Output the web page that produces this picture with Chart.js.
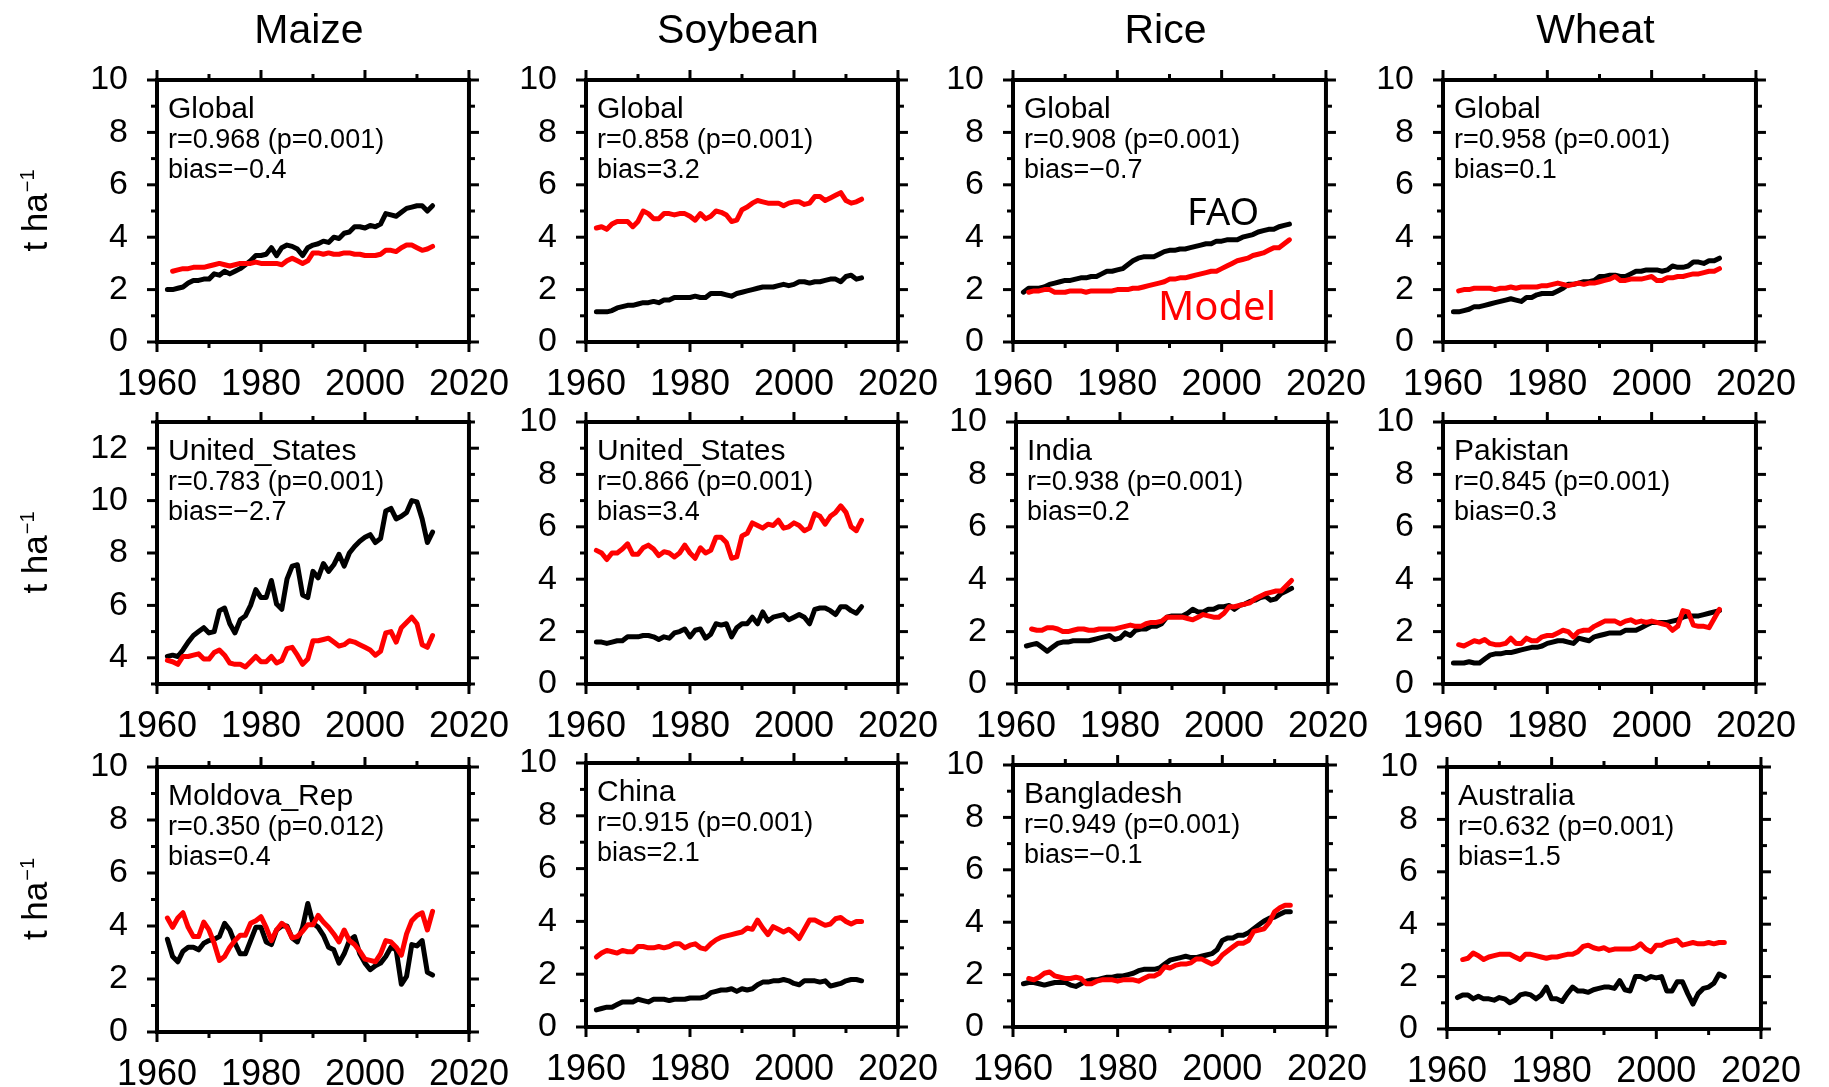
<!DOCTYPE html>
<html>
<head>
<meta charset="utf-8">
<title>Crop yield: FAO vs Model</title>
<script src="https://cdn.jsdelivr.net/npm/chart.js@4.4.1/dist/chart.umd.min.js"></script>
<style>
  html, body { margin: 0; padding: 0; background: #ffffff; }
  #fig { position: relative; width: 1829px; height: 1087px; overflow: hidden; background: #ffffff; }
  #fig canvas { position: absolute; }
</style>
</head>
<body>
<div id="fig"></div>
<script>
// ---------------------------------------------------------------------------
// Data (t ha-1), years 1962-2013. null = no value for that year.
// ---------------------------------------------------------------------------
const years = [1962,1963,1964,1965,1966,1967,1968,1969,1970,1971,
               1972,1973,1974,1975,1976,1977,1978,1979,1980,1981,
               1982,1983,1984,1985,1986,1987,1988,1989,1990,1991,
               1992,1993,1994,1995,1996,1997,1998,1999,2000,2001,
               2002,2003,2004,2005,2006,2007,2008,2009,2010,2011,
               2012,2013];

const cropNames = ['Maize', 'Soybean', 'Rice', 'Wheat'];

const regionNames = ['Global', 'Global', 'Global', 'Global',
                     'United_States', 'United_States', 'India', 'Pakistan',
                     'Moldova_Rep', 'China', 'Bangladesh', 'Australia'];

const corrTexts = ['r=0.968 (p=0.001)', 'r=0.858 (p=0.001)', 'r=0.908 (p=0.001)', 'r=0.958 (p=0.001)',
                   'r=0.783 (p=0.001)', 'r=0.866 (p=0.001)', 'r=0.938 (p=0.001)', 'r=0.845 (p=0.001)',
                   'r=0.350 (p=0.012)', 'r=0.915 (p=0.001)', 'r=0.949 (p=0.001)', 'r=0.632 (p=0.001)'];

const biasTexts = ['bias=\u22120.4', 'bias=3.2', 'bias=\u22120.7', 'bias=0.1',
                   'bias=\u22122.7', 'bias=3.4', 'bias=0.2', 'bias=0.3',
                   'bias=0.4', 'bias=2.1', 'bias=\u22120.1', 'bias=1.5'];

// Maize, global
const faoMaizeGlobal = [2.0,2.0,2.05,2.1,2.25,2.35,2.35,2.4,2.4,2.6,
  2.55,2.7,2.6,2.7,2.8,2.95,3.1,3.3,3.3,3.35,
  3.6,3.3,3.6,3.7,3.65,3.55,3.3,3.6,3.7,3.75,
  3.85,3.8,4.0,3.95,4.15,4.2,4.4,4.4,4.35,4.45,
  4.4,4.5,4.9,4.85,4.8,4.95,5.1,5.15,5.2,5.2,
  5.0,5.2];
const modelMaizeGlobal = [null,2.7,2.75,2.8,2.8,2.85,2.85,2.85,2.9,2.95,
  3.0,2.95,2.9,2.95,3.0,3.0,3.0,3.05,3.0,3.0,
  3.0,3.0,2.95,3.1,3.2,3.1,3.0,3.1,3.4,3.4,
  3.35,3.4,3.35,3.35,3.4,3.4,3.35,3.35,3.3,3.3,
  3.3,3.35,3.5,3.5,3.45,3.6,3.7,3.7,3.6,3.5,
  3.55,3.65];

// Soybean, global
const faoSoyGlobal = [1.15,1.15,1.15,1.2,1.3,1.35,1.4,1.4,1.45,1.5,
  1.5,1.55,1.5,1.6,1.6,1.7,1.7,1.7,1.7,1.75,
  1.7,1.7,1.85,1.85,1.85,1.8,1.75,1.85,1.9,1.95,
  2.0,2.05,2.1,2.1,2.1,2.15,2.2,2.15,2.2,2.3,
  2.3,2.25,2.3,2.3,2.35,2.4,2.4,2.3,2.5,2.55,
  2.4,2.45];
const modelSoyGlobal = [4.35,4.4,4.3,4.5,4.6,4.6,4.6,4.4,4.6,5.0,
  4.9,4.7,4.7,4.9,4.9,4.85,4.9,4.9,4.8,4.65,
  4.9,4.7,4.8,5.0,4.95,4.85,4.6,4.65,5.05,5.15,
  5.3,5.4,5.35,5.3,5.3,5.3,5.2,5.3,5.35,5.35,
  5.25,5.3,5.55,5.55,5.4,5.5,5.6,5.7,5.4,5.3,
  5.35,5.45];

// Rice, global
const faoRiceGlobal = [1.9,2.05,2.05,2.05,2.1,2.2,2.25,2.3,2.35,2.35,
  2.4,2.45,2.45,2.5,2.5,2.6,2.7,2.7,2.75,2.8,
  2.95,3.1,3.2,3.25,3.25,3.25,3.35,3.45,3.5,3.5,
  3.55,3.55,3.6,3.65,3.7,3.75,3.75,3.85,3.85,3.9,
  3.9,3.9,4.0,4.05,4.1,4.2,4.25,4.3,4.3,4.4,
  4.45,4.5];
const modelRiceGlobal = [null,1.9,1.95,1.95,2.0,2.0,1.9,1.9,1.9,1.95,
  1.95,1.95,1.9,1.95,1.95,1.95,1.95,1.95,2.0,2.0,
  2.0,2.05,2.05,2.1,2.15,2.2,2.25,2.3,2.4,2.4,
  2.45,2.45,2.5,2.55,2.6,2.65,2.7,2.7,2.8,2.9,
  3.0,3.1,3.15,3.2,3.3,3.35,3.4,3.5,3.6,3.6,
  3.75,3.9];

// Wheat, global
const faoWheatGlobal = [1.15,1.15,1.2,1.25,1.35,1.35,1.4,1.45,1.5,1.55,
  1.6,1.65,1.6,1.55,1.7,1.7,1.8,1.85,1.85,1.85,
  1.95,2.05,2.2,2.2,2.25,2.3,2.3,2.35,2.5,2.5,
  2.55,2.55,2.5,2.5,2.6,2.7,2.7,2.75,2.75,2.75,
  2.7,2.75,2.9,2.85,2.85,2.9,3.05,3.05,3.0,3.1,
  3.1,3.2];
const modelWheatGlobal = [null,1.95,2.0,2.0,2.05,2.05,2.05,2.05,2.0,2.05,
  2.05,2.1,2.05,2.1,2.1,2.1,2.1,2.15,2.15,2.2,
  2.25,2.2,2.15,2.2,2.25,2.2,2.25,2.25,2.3,2.35,
  2.4,2.5,2.35,2.35,2.4,2.4,2.4,2.45,2.5,2.35,
  2.35,2.45,2.45,2.5,2.5,2.55,2.6,2.6,2.65,2.7,
  2.7,2.8];

// Maize, United States
const faoMaizeUS = [4.05,4.1,4.05,4.3,4.6,4.85,5.0,5.15,4.95,5.0,
  5.8,5.9,5.3,4.95,5.45,5.6,6.0,6.6,6.3,6.3,
  6.95,6.05,5.85,7.0,7.5,7.55,6.4,6.3,7.3,7.05,
  7.6,7.3,7.55,7.95,7.5,8.0,8.25,8.45,8.6,8.7,
  8.4,8.55,9.6,9.7,9.3,9.4,9.55,10.0,9.95,9.3,
  8.4,8.8];
const modelMaizeUS = [3.9,3.85,3.75,4.05,4.05,4.1,4.15,3.95,3.95,4.2,
  4.3,4.1,3.8,3.75,3.75,3.65,3.85,4.05,3.85,3.85,
  4.05,3.8,3.9,4.35,4.4,4.1,3.75,3.95,4.65,4.65,
  4.7,4.75,4.6,4.45,4.5,4.65,4.6,4.5,4.4,4.3,
  4.1,4.25,4.95,5.0,4.6,5.15,5.35,5.55,5.3,4.5,
  4.4,4.85];

// Soybean, United States
const faoSoyUS = [1.6,1.6,1.55,1.6,1.65,1.65,1.8,1.8,1.8,1.85,
  1.85,1.8,1.7,1.8,1.75,1.95,2.0,2.1,1.8,2.05,
  2.1,1.75,1.9,2.3,2.25,2.3,1.8,2.15,2.3,2.3,
  2.55,2.3,2.75,2.4,2.55,2.6,2.65,2.45,2.55,2.65,
  2.55,2.3,2.85,2.9,2.9,2.8,2.65,2.95,2.95,2.8,
  2.7,2.95];
const modelSoyUS = [5.1,5.0,4.75,5.0,5.0,5.15,5.35,4.95,4.95,5.2,
  5.3,5.15,4.9,5.05,5.0,4.85,5.0,5.3,5.0,4.8,
  5.2,5.0,5.1,5.6,5.6,5.4,4.8,4.85,5.65,5.75,
  6.15,6.05,5.95,6.1,6.05,6.25,5.95,6.0,6.15,6.05,
  5.85,5.95,6.5,6.4,6.1,6.4,6.55,6.8,6.55,6.0,
  5.85,6.25];

// Rice, India
const faoRiceIndia = [1.45,1.5,1.55,1.4,1.25,1.4,1.55,1.6,1.6,1.65,
  1.65,1.65,1.65,1.7,1.75,1.8,1.85,1.7,1.75,1.95,
  1.85,2.05,2.1,2.1,2.2,2.2,2.3,2.55,2.6,2.6,
  2.6,2.7,2.85,2.75,2.75,2.85,2.85,2.95,2.95,3.0,
  2.85,3.0,3.05,3.15,3.2,3.3,3.35,3.2,3.25,3.45,
  3.55,3.65];
const modelRiceIndia = [null,2.1,2.05,2.05,2.15,2.15,2.1,2.0,2.0,2.05,
  2.1,2.1,2.05,2.05,2.1,2.1,2.1,2.1,2.15,2.2,
  2.25,2.2,2.2,2.3,2.35,2.35,2.4,2.55,2.55,2.55,
  2.55,2.5,2.45,2.55,2.65,2.6,2.55,2.55,2.7,2.95,
  2.95,3.0,3.05,3.1,3.25,3.35,3.45,3.5,3.55,3.55,
  3.75,3.95];

// Wheat, Pakistan
const faoWheatPakistan = [0.8,0.8,0.8,0.85,0.8,0.8,0.95,1.1,1.15,1.15,
  1.2,1.2,1.25,1.3,1.35,1.4,1.4,1.45,1.55,1.6,
  1.65,1.65,1.6,1.55,1.75,1.7,1.65,1.8,1.85,1.9,
  1.95,1.95,1.95,2.05,2.05,2.05,2.15,2.25,2.35,2.35,
  2.35,2.35,2.4,2.45,2.55,2.6,2.6,2.6,2.65,2.7,
  2.75,2.8];
const modelWheatPakistan = [null,1.5,1.45,1.55,1.65,1.6,1.7,1.55,1.5,1.5,
  1.55,1.75,1.55,1.55,1.75,1.65,1.65,1.8,1.85,1.85,
  1.95,2.05,2.0,1.8,2.0,2.05,2.05,2.2,2.3,2.4,
  2.4,2.4,2.3,2.4,2.45,2.35,2.4,2.35,2.4,2.35,
  2.3,2.25,2.05,2.2,2.8,2.75,2.25,2.2,2.2,2.15,
  2.5,2.85];

// Maize, Moldova
const faoMaizeMoldova = [3.5,2.85,2.65,3.05,3.2,3.2,3.1,3.35,3.45,3.5,
  3.6,4.1,3.85,3.35,2.95,2.95,3.45,3.95,3.95,3.4,
  3.3,3.85,4.0,4.0,3.55,3.4,3.95,4.85,4.1,3.95,
  3.65,3.2,3.1,2.6,2.95,3.45,3.6,2.95,2.6,2.35,
  2.5,2.6,2.85,3.2,3.1,1.8,2.1,3.3,3.25,3.45,
  2.25,2.15];
const modelMaizeMoldova = [4.3,3.95,4.3,4.5,3.95,3.6,3.6,4.15,3.85,3.35,
  2.7,2.85,3.2,3.45,3.65,3.65,4.1,4.2,4.35,3.95,
  3.45,3.85,4.1,3.95,3.55,3.6,3.8,4.05,4.05,4.4,
  4.15,3.95,3.7,3.4,3.85,3.45,3.3,3.05,2.75,2.7,
  2.65,2.95,3.45,3.4,3.2,2.9,3.7,4.2,4.4,4.5,
  3.85,4.55];

// Soybean, China
const faoSoyChina = [0.65,0.7,0.75,0.75,0.85,0.95,0.95,0.95,1.05,1.0,
  0.95,1.05,1.05,1.05,1.0,1.05,1.05,1.05,1.1,1.1,
  1.1,1.15,1.3,1.35,1.4,1.4,1.45,1.35,1.45,1.4,
  1.45,1.6,1.7,1.7,1.75,1.75,1.8,1.75,1.65,1.6,
  1.75,1.75,1.75,1.7,1.75,1.55,1.6,1.65,1.75,1.8,
  1.8,1.75];
const modelSoyChina = [2.65,2.8,2.9,2.85,2.8,2.9,2.85,2.85,3.05,3.05,
  3.0,3.0,3.05,3.0,3.05,3.15,3.15,3.0,3.1,3.15,
  3.0,2.95,3.15,3.3,3.4,3.45,3.5,3.55,3.6,3.75,
  3.7,4.05,3.75,3.5,3.8,3.7,3.6,3.7,3.55,3.35,
  3.7,4.05,4.05,3.95,3.85,3.9,4.1,4.15,4.0,3.9,
  4.0,4.0];

// Rice, Bangladesh
const faoRiceBangladesh = [1.65,1.7,1.7,1.65,1.6,1.65,1.7,1.7,1.7,1.6,
  1.55,1.65,1.75,1.8,1.8,1.85,1.9,1.9,1.95,1.95,
  2.0,2.05,2.15,2.2,2.2,2.2,2.25,2.4,2.55,2.6,
  2.65,2.7,2.65,2.65,2.7,2.75,2.8,2.95,3.3,3.4,
  3.4,3.5,3.5,3.6,3.75,3.9,4.05,4.15,4.2,4.3,
  4.4,4.4];
const modelRiceBangladesh = [null,1.85,1.8,1.9,2.05,2.1,1.95,1.9,1.85,1.85,
  1.9,1.85,1.65,1.65,1.75,1.8,1.8,1.8,1.75,1.8,
  1.8,1.8,1.75,1.85,1.95,1.95,2.05,2.3,2.25,2.35,
  2.4,2.4,2.45,2.6,2.6,2.5,2.4,2.5,2.75,2.9,
  3.05,3.2,3.2,3.3,3.65,3.7,3.75,4.0,4.4,4.55,
  4.65,4.65];

// Wheat, Australia
const faoWheatAustralia = [1.2,1.3,1.3,1.15,1.25,1.15,1.15,1.1,1.2,1.15,
  1.0,1.1,1.3,1.35,1.3,1.15,1.3,1.6,1.15,1.15,
  1.05,1.35,1.6,1.45,1.45,1.4,1.5,1.55,1.6,1.6,
  1.55,1.85,1.5,1.45,2.0,2.0,1.9,2.0,1.95,2.0,
  1.45,1.45,1.8,1.8,1.35,0.95,1.35,1.55,1.6,1.75,
  2.1,2.0];
const modelWheatAustralia = [null,2.65,2.7,2.9,2.8,2.65,2.75,2.8,2.85,2.85,
  2.85,2.75,2.65,2.85,2.85,2.8,2.75,2.7,2.75,2.75,
  2.8,2.85,2.85,2.95,3.15,3.2,3.1,3.05,3.1,3.0,
  3.05,3.05,3.05,3.05,3.1,3.25,3.05,2.95,3.2,3.2,
  3.3,3.35,3.4,3.2,3.25,3.3,3.25,3.25,3.3,3.25,
  3.3,3.3];

// Axis tick values
const xLabelTicks = [1960, 1980, 2000, 2020];
const xMinorTicks = [1970, 1990, 2010];
const yMajorDefault = [0, 2, 4, 6, 8, 10];
const yMinorDefault = [1, 3, 5, 7, 9];
const yMajorUSMaize = [4, 6, 8, 10, 12];
const yMinorUSMaize = [3, 5, 7, 9, 11, 13];

// Series per panel, row by row (Maize, Soybean, Rice, Wheat)
const faoSeries = [faoMaizeGlobal, faoSoyGlobal, faoRiceGlobal, faoWheatGlobal,
                   faoMaizeUS, faoSoyUS, faoRiceIndia, faoWheatPakistan,
                   faoMaizeMoldova, faoSoyChina, faoRiceBangladesh, faoWheatAustralia];
const modelSeries = [modelMaizeGlobal, modelSoyGlobal, modelRiceGlobal, modelWheatGlobal,
                     modelMaizeUS, modelSoyUS, modelRiceIndia, modelWheatPakistan,
                     modelMaizeMoldova, modelSoyChina, modelRiceBangladesh, modelWheatAustralia];

// ---------------------------------------------------------------------------
// Page layout: plot-area rectangles [left, top, right, bottom] in page pixels
// ---------------------------------------------------------------------------
const plotBoxes = [
  [157, 80, 480, 342], [586, 80, 909, 342], [1013, 80, 1337, 342], [1443, 80, 1767, 342],
  [157, 422, 480, 684], [586, 422, 909, 684], [1016, 422, 1339, 684], [1443, 422, 1767, 684],
  [157, 767, 480, 1032], [586, 763, 909, 1027], [1013, 765, 1338, 1027], [1447, 767, 1772, 1029]
];
const PAD_L = 150, PAD_R = 50, PAD_T = 90, PAD_B = 70;
const RED = '#ff0000';
const TEXT_FONT = '"Liberation Sans", Arial, Helvetica, sans-serif';

// Frame, tick marks on all four sides, panel text
const panelDecor = {
  id: 'panelDecor',
  afterDatasetsDraw(chart, args, o) {
    const ctx = chart.ctx;
    const a = chart.chartArea;
    const xs = chart.scales.x, ys = chart.scales.y;
    ctx.save();
    ctx.strokeStyle = '#000';
    ctx.lineCap = 'butt';
    ctx.lineWidth = 3;
    const tick = (x1, y1, x2, y2) => { ctx.beginPath(); ctx.moveTo(x1, y1); ctx.lineTo(x2, y2); ctx.stroke(); };
    const xTicks = (vals, len) => vals.forEach(v => {
      const px = xs.getPixelForValue(v);
      tick(px, a.bottom, px, a.bottom + len);
      tick(px, a.top, px, a.top - len);
    });
    const yTicks = (vals, len) => vals.forEach(v => {
      const py = ys.getPixelForValue(v);
      tick(a.left - len, py, a.left, py);
      tick(a.right, py, a.right + len, py);
    });
    xTicks(xLabelTicks, 10);
    xTicks(xMinorTicks, 6);
    yTicks(o.yMajor, 10);
    yTicks(o.yMinor, 6);
    ctx.lineWidth = 4;
    ctx.strokeRect(a.left, a.top, a.right - a.left, a.bottom - a.top);

    // region name and statistics
    ctx.fillStyle = '#000';
    ctx.textAlign = 'left';
    ctx.textBaseline = 'alphabetic';
    ctx.font = '30px ' + TEXT_FONT;
    ctx.fillText(o.region, a.left + 11, a.top + 38);
    ctx.font = '27px ' + TEXT_FONT;
    ctx.fillText(o.corr, a.left + 11, a.top + 68);
    ctx.fillText(o.bias, a.left + 11, a.top + 98);

    // crop name above the first row
    if (o.title) {
      ctx.textAlign = 'center';
      ctx.font = '41px ' + TEXT_FONT;
      ctx.fillText(o.title, (a.left + a.right) / 2 - 4, a.top - 37);
    }

    // unit label left of the first column
    if (o.unitLabel) {
      ctx.save();
      ctx.translate(a.left - 110, (a.top + a.bottom) / 2);
      ctx.rotate(-Math.PI / 2);
      ctx.textAlign = 'left';
      ctx.font = '35px ' + TEXT_FONT;
      const main = 't ha';
      const wMain = ctx.measureText(main).width;
      ctx.font = '20px ' + TEXT_FONT;
      const sup = '\u22121';
      const wSup = ctx.measureText(sup).width;
      const x0 = -(wMain + wSup) / 2;
      ctx.font = '35px ' + TEXT_FONT;
      ctx.fillText(main, x0, 0);
      ctx.font = '20px ' + TEXT_FONT;
      ctx.fillText(sup, x0 + wMain + 1, -13);
      ctx.restore();
    }

    // series names written next to the lines
    if (o.seriesNames) {
      ctx.textAlign = 'left';
      ctx.font = '38px "Noto Sans", "Open Sans", sans-serif';
      ctx.fillStyle = '#000';
      ctx.fillText('FAO', a.left + 174, a.top + 145);
      ctx.font = '40px "Noto Sans", "Open Sans", sans-serif';
      ctx.fillStyle = RED;
      ctx.fillText('Model', a.left + 145, a.top + 240);
    }
    ctx.restore();
  }
};

const fig = document.getElementById('fig');

function points(values) {
  return years.map((yr, i) => ({ x: yr, y: values[i] }));
}

plotBoxes.forEach((box, i) => {
  const [L, T, R, B] = box;
  const row = Math.floor(i / 4), col = i % 4;
  const isUSMaize = (i === 4);
  const yMajor = isUSMaize ? yMajorUSMaize : yMajorDefault;
  const yMinor = isUSMaize ? yMinorUSMaize : yMinorDefault;
  const w = (R - L) + PAD_L + PAD_R;
  const h = (B - T) + PAD_T + PAD_B;
  const cv = document.createElement('canvas');
  cv.width = w; cv.height = h;
  cv.style.left = (L - PAD_L) + 'px';
  cv.style.top = (T - PAD_T) + 'px';
  cv.style.width = w + 'px';
  cv.style.height = h + 'px';
  if (col === 3) cv.style.clipPath = 'inset(0 ' + (R + PAD_R - 1806) + 'px 0 0)';
  fig.appendChild(cv);

  new Chart(cv, {
    type: 'line',
    data: {
      datasets: [
        { label: 'Model', data: points(modelSeries[i]), borderColor: RED, backgroundColor: RED,
          borderWidth: 5, pointRadius: 0, borderJoinStyle: 'round', borderCapStyle: 'round', order: 0 },
        { label: 'FAO', data: points(faoSeries[i]), borderColor: '#000', backgroundColor: '#000',
          borderWidth: 5, pointRadius: 0, borderJoinStyle: 'round', borderCapStyle: 'round', order: 1 }
      ]
    },
    options: {
      responsive: false,
      animation: false,
      devicePixelRatio: 1,
      layout: { padding: { left: 0, right: PAD_R, top: PAD_T, bottom: 0 } },
      plugins: {
        legend: { display: false },
        tooltip: { enabled: false },
        panelDecor: {
          region: regionNames[i],
          corr: corrTexts[i],
          bias: biasTexts[i],
          title: row === 0 ? cropNames[col] : null,
          unitLabel: col === 0,
          seriesNames: i === 2,
          yMajor: yMajor,
          yMinor: yMinor
        }
      },
      scales: {
        x: {
          type: 'linear',
          min: 1960, max: 2020,
          afterBuildTicks: s => { s.ticks = xLabelTicks.map(v => ({ value: v })); },
          afterFit: s => { s.height = PAD_B; },
          grid: { display: false, drawTicks: false },
          border: { display: false },
          ticks: {
            autoSkip: false, maxRotation: 0, padding: 21,
            color: '#000', font: { family: TEXT_FONT, size: 36 },
            callback: v => String(v)
          }
        },
        y: {
          type: 'linear',
          min: isUSMaize ? 3 : 0, max: isUSMaize ? 13 : 10,
          afterBuildTicks: s => { s.ticks = yMajor.map(v => ({ value: v })); },
          afterFit: s => { s.width = PAD_L; },
          grid: { display: false, drawTicks: false },
          border: { display: false },
          ticks: {
            autoSkip: false, padding: 29,
            color: '#000', font: { family: TEXT_FONT, size: 34 },
            callback: v => String(v)
          }
        }
      }
    },
    plugins: [panelDecor]
  });
});
</script>
</body>
</html>
